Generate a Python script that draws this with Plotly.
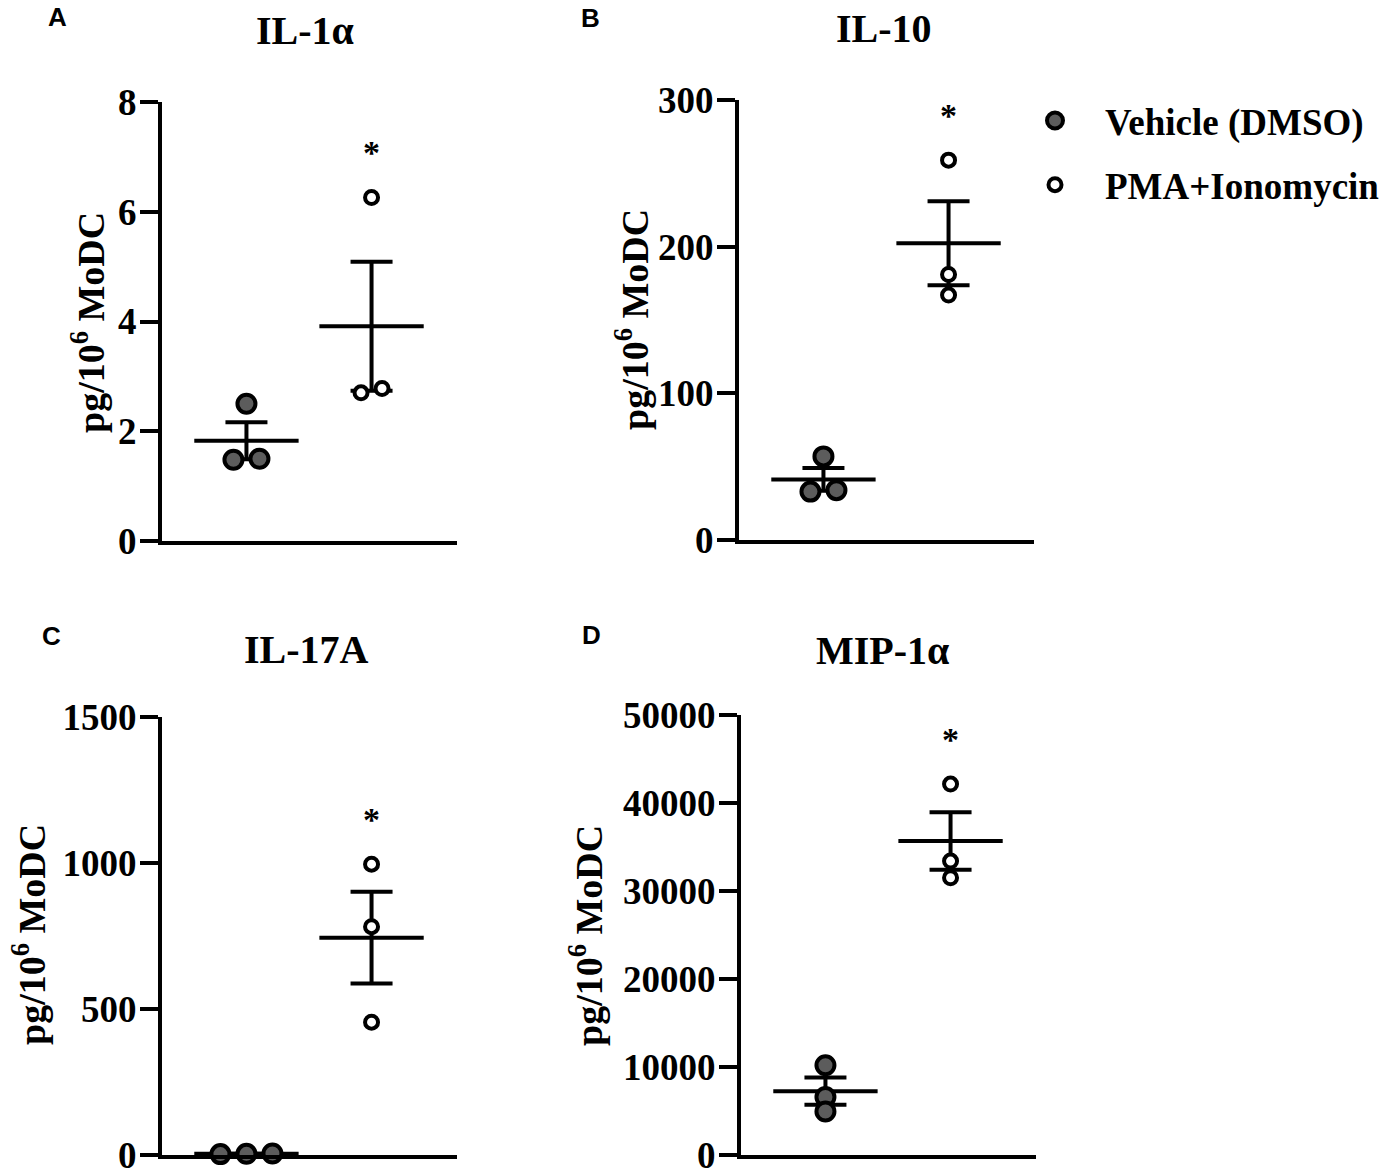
import numpy as np
import plotly.graph_objects as go

# ---------------- data ----------------
groups = ["Vehicle (DMSO)", "PMA+Ionomycin"]
panel_titles = ["IL-1α", "IL-10", "IL-17A", "MIP-1α"]
panel_letters = ["A", "B", "C", "D"]

il1a_vehicle = [2.50, 1.48, 1.50]
il1a_pma = [6.26, 2.70, 2.78]
il10_vehicle = [57, 33, 34]
il10_pma = [259, 181, 167]
il17a_vehicle = [4, 3, 5]
il17a_pma = [996, 782, 455]
mip1a_vehicle = [10200, 6600, 4950]
mip1a_pma = [42150, 33400, 31500]

y_max = [8, 300, 1500, 50000]
y_dtick = [2, 100, 500, 10000]
significant = [True, True, True, True]

vehicle_sets = [il1a_vehicle, il10_vehicle, il17a_vehicle, mip1a_vehicle]
pma_sets = [il1a_pma, il10_pma, il17a_pma, mip1a_pma]

# ---------------- layout constants ----------------
W, H = 1386, 1175
# panel plot-area boxes in figure pixels: (x_left, x_right, y_top, y_bottom)
boxes = [(162, 457, 102, 541), (739, 1034, 100, 540),
         (162, 457, 717, 1155), (741, 1036, 715, 1155)]
XR = (-0.675, 1.683)
MEAN_HALF = 0.417
CAP_HALF_PX = 21
SERIF = "Liberation Serif"
SANS = "Liberation Sans"
VEH_SIZE, PMA_SIZE, MLINE = 18, 13, 4
VEH_COLOR = "#5c5c5c"

ytitle_pos = [(88, 323), (632, 320), (29, 935), (586, 936)]
title_pos = [(305, 31), (884, 29), (306, 649), (883, 650)]
letter_pos = [(57, 17), (590, 18), (51, 636), (591, 635)]


def swarm(vals, ymax, h_px, diam_px, w_px):
    """Prism-like horizontal spreading of points that nearly coincide."""
    px = np.asarray(vals, float) / ymax * h_px
    order = np.argsort(px)
    offs = np.zeros(len(vals))
    clusters, cur = [], [order[0]]
    for i in order[1:]:
        if px[i] - px[cur[-1]] < 0.5 * diam_px:
            cur.append(i)
        else:
            clusters.append(cur)
            cur = [i]
    clusters.append(cur)
    for c in clusters:
        n = len(c)
        for k, i in enumerate(c):
            offs[i] = (k - (n - 1) / 2) * (diam_px + 4)
    return offs / w_px * (XR[1] - XR[0])


fig = go.Figure()
annotations = []

for p in range(4):
    ax = "" if p == 0 else str(p + 1)
    xref, yref = "x" + ax, "y" + ax
    x0, x1, yt, yb = boxes[p]
    w_px, h_px = x1 - x0, yb - yt
    sets = [vehicle_sets[p], pma_sets[p]]
    means = [float(np.mean(s)) for s in sets]
    sems = [float(np.std(s, ddof=1) / np.sqrt(len(s))) for s in sets]

    # mean lines
    mx, my = [], []
    for g, m in enumerate(means):
        mx += [g - MEAN_HALF, g + MEAN_HALF, None]
        my += [m, m, None]
    fig.add_trace(go.Scatter(x=mx, y=my, mode="lines", xaxis=xref, yaxis=yref,
                             line=dict(color="black", width=4), showlegend=False,
                             hoverinfo="skip", cliponaxis=False))
    # SEM error bars
    fig.add_trace(go.Scatter(x=[0, 1], y=means, mode="markers", xaxis=xref, yaxis=yref,
                             marker=dict(size=1, color="rgba(0,0,0,0)"),
                             error_y=dict(type="data", array=sems, visible=True,
                                          color="black", thickness=4, width=CAP_HALF_PX),
                             showlegend=False, hoverinfo="skip", cliponaxis=False))
    # points
    for g, s in enumerate(sets):
        size = VEH_SIZE if g == 0 else PMA_SIZE
        offs = swarm(s, y_max[p], h_px, size + MLINE, w_px)
        fig.add_trace(go.Scatter(
            x=[g + o for o in offs], y=s, mode="markers", xaxis=xref, yaxis=yref,
            name=groups[g], legendgroup=groups[g], showlegend=(p == 0),
            marker=dict(size=size, color=VEH_COLOR if g == 0 else "white",
                        line=dict(color="black", width=MLINE)),
            cliponaxis=False))

    # significance asterisk
    if significant[p]:
        annotations.append(dict(x=1, y=max(pma_sets[p]), xref=xref, yref=yref,
                                text="*", showarrow=False, yanchor="middle",
                                yshift=45, font=dict(family=SERIF, size=34,
                                                     color="black", weight="bold")))

    fig.update_layout(**{
        "xaxis" + ax: dict(domain=[x0 / W, x1 / W], range=list(XR), showline=True,
                           linewidth=4, linecolor="black", showticklabels=False,
                           ticks="", showgrid=False, zeroline=False,
                           anchor=yref, fixedrange=True, automargin=False),
        "yaxis" + ax: dict(domain=[1 - yb / H, 1 - yt / H], range=[0, y_max[p]],
                           tick0=0, dtick=y_dtick[p], tickformat="d",
                           ticks="outside", ticklen=18,
                           tickwidth=4, tickcolor="black", showline=True,
                           linewidth=4, linecolor="black", showgrid=False,
                           zeroline=False, anchor=xref, ticklabelstandoff=-4,
                           automargin=False, ticklabeloverflow="allow",
                           fixedrange=True,
                           tickfont=dict(family=SERIF, size=37, color="black",
                                         weight="bold")),
    })

    # panel title, y-axis title, panel letter
    tx, ty = title_pos[p]
    annotations.append(dict(x=tx / W, y=1 - ty / H, xref="paper", yref="paper",
                            text=panel_titles[p], showarrow=False,
                            xanchor="center", yanchor="middle",
                            font=dict(family=SERIF, size=40, color="black",
                                      weight="bold")))
    ax_x, ax_y = ytitle_pos[p]
    annotations.append(dict(x=ax_x / W, y=1 - ax_y / H, xref="paper", yref="paper",
                            text="pg/10<sup>6</sup> MoDC", showarrow=False,
                            textangle=-90, xanchor="center", yanchor="middle",
                            font=dict(family=SERIF, size=38, color="black",
                                      weight="bold")))
    lx, ly = letter_pos[p]
    annotations.append(dict(x=lx / W, y=1 - ly / H, xref="paper", yref="paper",
                            text=panel_letters[p], showarrow=False,
                            xanchor="center", yanchor="middle",
                            font=dict(family=SANS, size=26, color="black",
                                      weight="bold")))

fig.update_layout(
    width=W, height=H, margin=dict(l=0, r=0, t=0, b=0, autoexpand=False),
    paper_bgcolor="white", plot_bgcolor="white",
    annotations=annotations,
    showlegend=True,
    legend=dict(x=1005 / W, y=1 - 90 / H, xanchor="left", yanchor="top",
                font=dict(family=SERIF, size=37, color="black", weight="bold"),
                bgcolor="rgba(0,0,0,0)", traceorder="grouped",
                tracegroupgap=13, itemwidth=90),
)

# remove the default page margin so the figure fills the browser window exactly
fig.write_html("out.html",
               config={"displayModeBar": False},
               post_script="document.body.style.margin='0px';"
                           "document.body.style.overflow='hidden';")
